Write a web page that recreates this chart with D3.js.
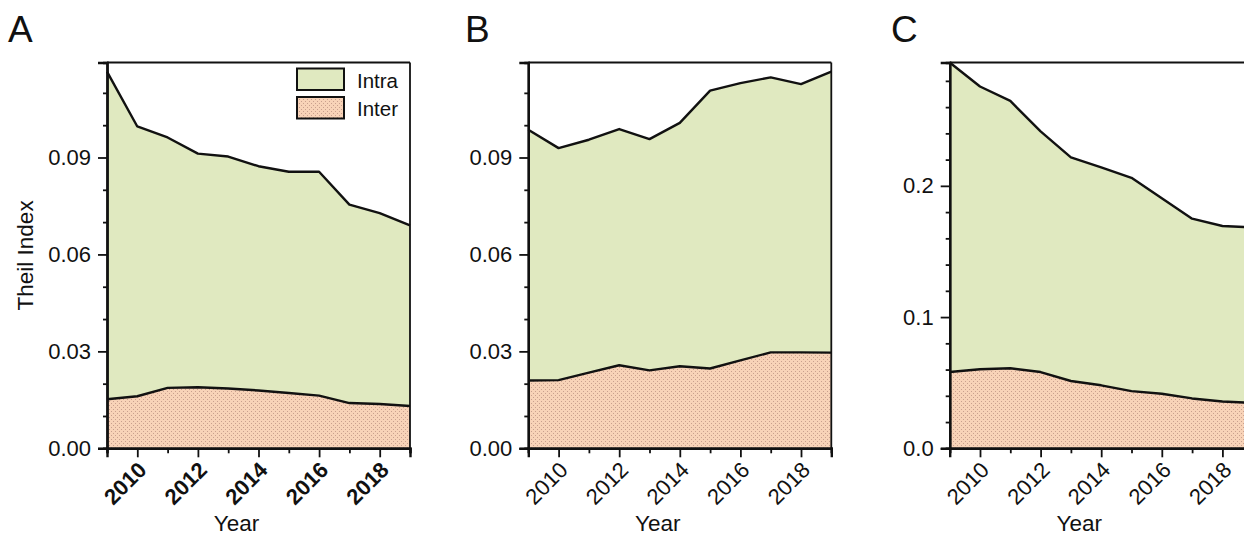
<!DOCTYPE html>
<html>
<head>
<meta charset="utf-8">
<script src="https://cdn.jsdelivr.net/npm/d3@7"></script>
<style>
  body { margin: 0; background: #fff; }
  svg { display: block; }
  text { font-family: "Liberation Sans", Arial, sans-serif; fill: #111; }
</style>
</head>
<body>
<svg id="chart" width="1244" height="535"></svg>
<script>
// ---- data ----
const years = [2009, 2010, 2011, 2012, 2013, 2014, 2015, 2016, 2017, 2018, 2019];
const xLabelYears = [2010, 2012, 2014, 2016, 2018];
const xMinorYears = [2009, 2011, 2013, 2015, 2017, 2019];
const seriesNames = ["Intra", "Inter"];

// Panel A
const interA = [0.0152, 0.0161, 0.0187, 0.0189, 0.0185, 0.0179, 0.0171, 0.0163, 0.0140, 0.0137, 0.0131];
const intraA = [0.1014, 0.0835, 0.0775, 0.0723, 0.0718, 0.0694, 0.0685, 0.0693, 0.0614, 0.0591, 0.0559];
// Panel B
const interB = [0.0210, 0.0211, 0.0234, 0.0257, 0.0241, 0.0254, 0.0247, 0.0272, 0.0297, 0.0297, 0.0296];
const intraB = [0.0776, 0.0718, 0.0721, 0.0731, 0.0716, 0.0753, 0.0860, 0.0858, 0.0851, 0.0830, 0.0870];
// Panel C
const interC = [0.0581, 0.0602, 0.0610, 0.0581, 0.0513, 0.0480, 0.0436, 0.0416, 0.0380, 0.0357, 0.0345];
const intraC = [0.2359, 0.2155, 0.2037, 0.1834, 0.1704, 0.1660, 0.1625, 0.1490, 0.1370, 0.1337, 0.1338];

const yMajorAB = [0.00, 0.03, 0.06, 0.09];
const yMinorAB = [0.01, 0.02, 0.04, 0.05, 0.07, 0.08, 0.10, 0.11];
const yMajorC = [0.0, 0.1, 0.2];
const yMinorC = [0.02, 0.04, 0.06, 0.08, 0.12, 0.14, 0.16, 0.18, 0.22, 0.24, 0.26, 0.28];

// ---- layout ----
const svg = d3.select("#chart");
const plotTop = 62.5, plotBottom = 448.3, plotW = 303;
const colIntra = "#e0e9c0";
const colInter = "#f8d3b8";
const tickFont = 22;

// dotted fill for the Inter layer
const defs = svg.append("defs");
const pat = defs.append("pattern")
  .attr("id", "dots").attr("patternUnits", "userSpaceOnUse")
  .attr("width", 4).attr("height", 4);
pat.append("rect").attr("width", 4).attr("height", 4).attr("fill", colInter);
pat.append("rect").attr("x", 1).attr("y", 1).attr("width", 1).attr("height", 1).attr("fill", "#c9a08e");
pat.append("rect").attr("x", 3).attr("y", 3).attr("width", 1).attr("height", 1).attr("fill", "#c9a08e");

const panels = [
  { letter: "A", letterX: 8, left: 107, inter: interA, intra: intraA, yMax: 0.1194,
    majors: yMajorAB, minors: yMinorAB, fmt: d3.format(".2f"), boldX: true, yTitle: "Theil Index", legend: true },
  { letter: "B", letterX: 465, left: 528.3, inter: interB, intra: intraB, yMax: 0.1194,
    majors: yMajorAB, minors: yMinorAB, fmt: d3.format(".2f"), boldX: false },
  { letter: "C", letterX: 891, left: 949.7, inter: interC, intra: intraC, yMax: 0.294,
    majors: yMajorC, minors: yMinorC, fmt: d3.format(".1f"), boldX: false }
];

panels.forEach(p => {
  const g = svg.append("g");
  const x = d3.scaleLinear().domain([2009, 2019]).range([p.left, p.left + plotW]);
  const y = d3.scaleLinear().domain([0, p.yMax]).range([plotBottom, plotTop]);

  const rows = years.map((yr, i) => ({ year: yr, Inter: p.inter[i], Intra: p.intra[i] }));
  const stacked = d3.stack().keys(["Inter", "Intra"])(rows);

  const area = d3.area()
    .x(d => x(d.data.year)).y0(d => y(d[0])).y1(d => y(d[1]));
  const topLine = d3.line().x(d => x(d.data.year)).y(d => y(d[1]));

  g.append("path").datum(stacked[1]).attr("d", area).attr("fill", colIntra);
  g.append("path").datum(stacked[0]).attr("d", area).attr("fill", "url(#dots)");
  stacked.forEach(s => {
    g.append("path").datum(s).attr("d", topLine)
      .attr("fill", "none").attr("stroke", "#111").attr("stroke-width", 2.4)
      .attr("stroke-linejoin", "round");
  });

  // frame: top and right edges
  g.append("line").attr("x1", p.left).attr("x2", p.left + plotW)
    .attr("y1", plotTop).attr("y2", plotTop).attr("stroke", "#111").attr("stroke-width", 1.8);
  g.append("line").attr("x1", p.left + plotW).attr("x2", p.left + plotW)
    .attr("y1", plotTop).attr("y2", plotBottom).attr("stroke", "#111").attr("stroke-width", 1.8);

  // y axis
  const yMajor = g.append("g").attr("transform", `translate(${p.left},0)`)
    .call(d3.axisLeft(y).tickValues(p.majors).tickFormat(p.fmt).tickSize(9).tickPadding(7));
  const yMinor = g.append("g").attr("transform", `translate(${p.left},0)`)
    .call(d3.axisLeft(y).tickValues(p.minors).tickFormat("").tickSize(4));
  // x axis
  const xMajor = g.append("g").attr("transform", `translate(0,${plotBottom})`)
    .call(d3.axisBottom(x).tickValues(xLabelYears).tickFormat(d3.format("d")).tickSize(9));
  const xMinor = g.append("g").attr("transform", `translate(0,${plotBottom})`)
    .call(d3.axisBottom(x).tickValues(xMinorYears).tickFormat("").tickSize(5));

  [yMajor, yMinor, xMajor, xMinor].forEach(a => {
    a.selectAll(".domain").attr("stroke", "#111").attr("stroke-width", 2.4);
    a.selectAll(".tick line").attr("stroke", "#111").attr("stroke-width", 1.8);
  });
  yMajor.selectAll(".tick text").attr("font-size", tickFont).attr("fill", "#111");
  xMajor.selectAll(".tick text")
    .attr("font-size", tickFont)
    .attr("font-weight", p.boldX ? "bold" : "normal")
    .attr("fill", "#111")
    .attr("text-anchor", "end")
    .attr("dy", null)
    .attr("y", null)
    .attr("transform", "translate(10,23) rotate(-45)");

  // titles
  g.append("text").attr("x", p.letterX).attr("y", 42).attr("font-size", 37).text(p.letter);
  g.append("text").attr("x", p.left + plotW / 2 - 22).attr("y", 531)
    .attr("text-anchor", "middle").attr("font-size", 22.5).text("Year");
  if (p.yTitle) {
    g.append("text").attr("transform", `translate(33,${(plotTop + plotBottom) / 2}) rotate(-90)`)
      .attr("text-anchor", "middle").attr("font-size", 22.5).text(p.yTitle);
  }

  if (p.legend) {
    const lg = g.append("g");
    const fills = [colIntra, "url(#dots)"];
    seriesNames.forEach((name, i) => {
      lg.append("rect").attr("x", 297).attr("y", 68.5 + i * 28.5)
        .attr("width", 47).attr("height", 21.5)
        .attr("fill", fills[i]).attr("stroke", "#111").attr("stroke-width", 2);
      lg.append("text").attr("x", 357).attr("y", 87.5 + i * 28.5)
        .attr("font-size", 20.5).text(name);
    });
  }
});
</script>
</body>
</html>
